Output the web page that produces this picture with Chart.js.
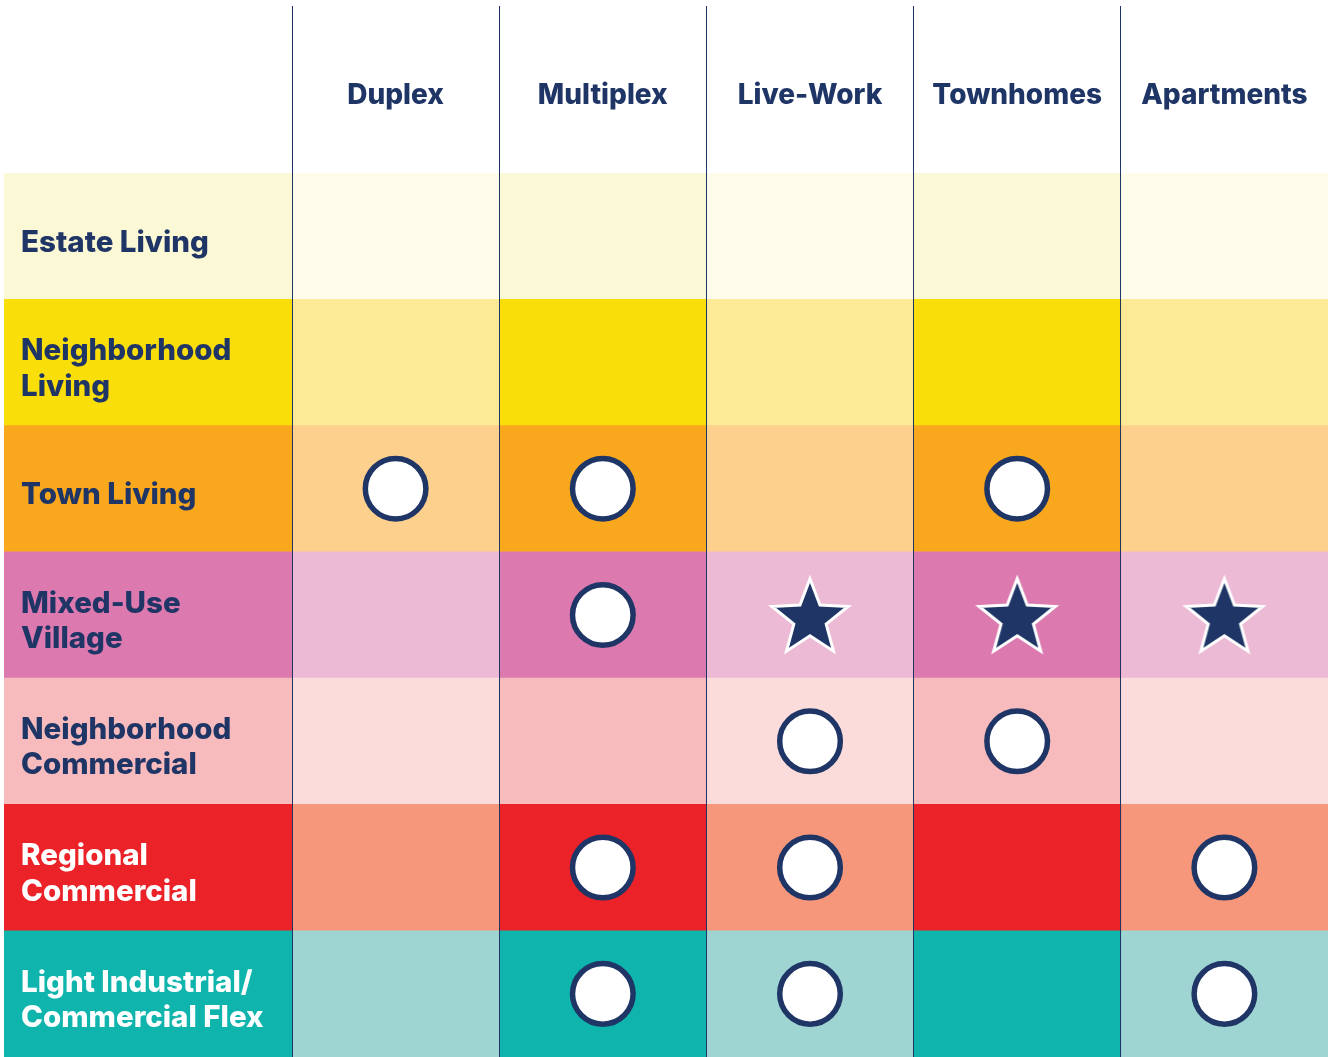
<!DOCTYPE html>
<html>
<head>
<meta charset="utf-8">
<script src="https://cdn.jsdelivr.net/npm/chart.js@4.4.1/dist/chart.umd.min.js"></script>
<style>
  html, body { margin: 0; padding: 0; background: #fff; }
  canvas { display: block; }
</style>
</head>
<body>
<canvas id="chart" width="1328" height="1057"></canvas>
<script>
// housing types across the top, place types down the side
var columns = ['Duplex', 'Multiplex', 'Live-Work', 'Townhomes', 'Apartments'];
var rows = [
  ['Estate Living'],
  ['Neighborhood', 'Living'],
  ['Town Living'],
  ['Mixed-Use', 'Village'],
  ['Neighborhood', 'Commercial'],
  ['Regional', 'Commercial'],
  ['Light Industrial/', 'Commercial Flex']
];
// 0 = nothing, 1 = circle, 2 = star
var marks = [
  [0, 0, 0, 0, 0],
  [0, 0, 0, 0, 0],
  [1, 1, 0, 1, 0],
  [0, 1, 2, 2, 2],
  [0, 0, 1, 1, 0],
  [0, 1, 1, 0, 1],
  [0, 1, 1, 0, 1]
];

var navy = '#1f3566';
var darkFill = ['#fbf8d5', '#f9de0a', '#f9a81e', '#dc7ab0', '#f8bbbd', '#eb2227', '#0fb4ac'];
var lightFill = ['#fdfcea', '#fcea96', '#fdd18d', '#edbad5', '#fbdcdb', '#f6977b', '#9ed5d2'];
var labelColor = [navy, navy, navy, navy, navy, '#ffffff', '#ffffff'];
var labelSpan = 1.39; // width of the row-name column, in column units

Chart.defaults.font.family = "'Inter', 'Noto Sans', sans-serif";

function makeStar(R, r) {
  var c = document.createElement('canvas');
  var s = Math.ceil(2 * R + 16);
  c.width = s; c.height = s;
  var g = c.getContext('2d');
  g.translate(s / 2, s / 2 + (R - R * Math.cos(Math.PI / 5)) / 2);
  g.beginPath();
  for (var i = 0; i < 10; i++) {
    var a = -Math.PI / 2 + i * Math.PI / 5;
    var d = i % 2 ? r : R;
    g.lineTo(Math.cos(a) * d, Math.sin(a) * d);
  }
  g.closePath();
  g.fillStyle = navy;
  g.fill();
  g.lineWidth = 3;
  g.lineJoin = 'miter';
  g.strokeStyle = '#ffffff';
  g.stroke();
  return c;
}

var rowKeys = rows.map(function (r) { return r.join(' '); });
var circlePts = [], starPts = [];
marks.forEach(function (row, ri) {
  row.forEach(function (m, ci) {
    if (m === 1) circlePts.push({ x: ci + 0.5, y: rowKeys[ri] });
    if (m === 2) starPts.push({ x: ci + 0.5, y: rowKeys[ri] });
  });
});

var datasets = [
  {
    type: 'scatter', order: 0, data: circlePts,
    pointStyle: 'circle', pointRadius: 30.3, borderWidth: 5.5,
    borderColor: navy, backgroundColor: '#ffffff'
  },
  {
    type: 'scatter', order: 0, data: starPts,
    pointStyle: makeStar(40, 17), pointRadius: 40
  },
  {
    type: 'bar', indexAxis: 'y', order: 1, grouped: false,
    data: rows.map(function () { return [-labelSpan, 0]; }),
    backgroundColor: darkFill, borderWidth: 0,
    barPercentage: 1, categoryPercentage: 1
  }
];
columns.forEach(function (c, ci) {
  datasets.push({
    type: 'bar', indexAxis: 'y', order: 1, grouped: false,
    data: rows.map(function () { return [ci, ci + 1]; }),
    backgroundColor: ci % 2 === 0 ? lightFill : darkFill, borderWidth: 0,
    barPercentage: 1, categoryPercentage: 1
  });
});

new Chart(document.getElementById('chart'), {
  type: 'bar',
  data: { labels: rowKeys, datasets: datasets },
  options: {
    responsive: false,
    animation: false,
    events: [],
    layout: { padding: 0, autoPadding: false },
    plugins: { legend: { display: false }, tooltip: { enabled: false } },
    scales: {
      x: {
        type: 'linear', position: 'top', stacked: false, offset: false,
        min: -labelSpan, max: columns.length,
        afterBuildTicks: function (s) {
          s.ticks = columns.map(function (c, i) { return { value: i + 0.5 }; });
        },
        afterFit: function (s) {
          s.height = 173;
          s.paddingLeft = 0; s.paddingRight = 0;
        },
        grid: {
          z: 1, offset: true, lineWidth: 1, drawTicks: true, tickLength: 167,
          // no line on the outer right edge
          color: function (ctx) { return ctx.type === 'tick' ? navy : 'rgba(0,0,0,0)'; }
        },
        border: { display: false },
        ticks: {
          autoSkip: false, maxRotation: 0, padding: -106,
          color: navy, font: { size: 28, weight: 800 },
          callback: function (v, i) { return columns[i]; }
        }
      },
      y: {
        type: 'category', offset: true, stacked: false,
        afterFit: function (s) {
          s.width = 4;
          s.paddingTop = 0; s.paddingBottom = 0;
        },
        grid: { display: false, drawTicks: false },
        border: { display: false },
        ticks: {
          z: 1, mirror: true, padding: 17, labelOffset: 6.5,
          font: { size: 29.5, weight: 800, lineHeight: 1.2 },
          color: function (ctx) { return labelColor[ctx.index]; },
          callback: function (v, i) { return rows[i]; }
        }
      }
    }
  }
});
</script>
</body>
</html>
